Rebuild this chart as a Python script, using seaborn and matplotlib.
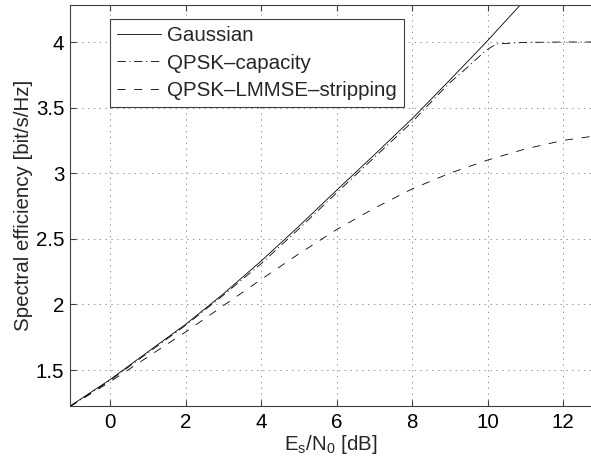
import matplotlib
matplotlib.use("Agg")
import matplotlib.pyplot as plt
import pandas as pd
import seaborn as sns

# Spectral efficiency versus Es/N0 for three schemes
gauss_snr = [-1.06, 0, 1, 2, 3, 4, 5, 6, 7, 8, 9, 10, 10.86]
gauss_se = [1.225, 1.427, 1.638, 1.848, 2.08, 2.33, 2.595, 2.87, 3.14, 3.415, 3.71, 4.01, 4.28]

qpsk_snr = [-1.06, 0, 1, 2, 3, 4, 5, 6, 7, 8, 8.56, 9, 9.36, 9.96, 10.23, 11, 12, 12.74]
qpsk_se = [1.222, 1.42, 1.63, 1.84, 2.07, 2.31, 2.575, 2.85, 3.12, 3.39, 3.56, 3.69, 3.78,
           3.936, 3.985, 3.997, 4.0, 4.0]

lmmse_snr = [-1.06, 0, 1, 2, 3, 4, 5, 6, 7, 8, 9, 10, 11, 12, 12.74]
lmmse_se = [1.222, 1.41, 1.60, 1.79, 1.99, 2.19, 2.385, 2.57, 2.733, 2.88, 3.0, 3.10, 3.185,
            3.25, 3.28]

series_names = ["Gaussian", "QPSK\u2013capacity", "QPSK\u2013LMMSE\u2013stripping"]

x_ticks = [0, 2, 4, 6, 8, 10, 12]
y_ticks = [1.5, 2, 2.5, 3, 3.5, 4]

FS = 14.8

sns.set_style("ticks")
plt.rcParams["font.family"] = ["Liberation Sans", "DejaVu Sans"]
plt.rcParams["mathtext.fontset"] = "custom"
plt.rcParams["mathtext.rm"] = "Liberation Sans"
plt.rcParams["mathtext.it"] = "Liberation Sans:italic"
plt.rcParams["lines.scale_dashes"] = False

df = pd.concat([
    pd.DataFrame({"snr": gauss_snr, "se": gauss_se, "series": series_names[0]}),
    pd.DataFrame({"snr": qpsk_snr, "se": qpsk_se, "series": series_names[1]}),
    pd.DataFrame({"snr": lmmse_snr, "se": lmmse_se, "series": series_names[2]}),
], ignore_index=True)

fig = plt.figure(figsize=(5.91, 4.66), dpi=100)
ax = fig.add_axes([70 / 591, 1 - 406 / 466, 521 / 591, 401 / 466])

sns.lineplot(
    data=df, x="snr", y="se", hue="series", style="series",
    hue_order=series_names, style_order=series_names,
    palette={n: "black" for n in series_names},
    dashes={series_names[0]: "",
            series_names[1]: (6.0, 2.6, 0.8, 2.6),
            series_names[2]: (5.8, 6.2)},
    linewidth=0.6, sort=False, estimator=None, ax=ax,
)

ax.set_xlim(-1.06, 12.74)
ax.set_ylim(1.226, 4.282)
ax.set_xticks(x_ticks)
ax.set_yticks(y_ticks)
ax.set_xticklabels([f"{t:g}" for t in x_ticks])
ax.set_yticklabels([f"{t:g}" for t in y_ticks])

ax.grid(True, linestyle=(0, (1, 3.2)), color="#808080", linewidth=0.6)
ax.tick_params(direction="in", length=4, width=0.8, color="#404040",
               labelsize=FS, labelcolor="black", top=True, right=False)
ax.tick_params(axis="x", pad=5)
ax.tick_params(axis="y", pad=4)
for side in ("left", "bottom", "top"):
    ax.spines[side].set_color("#404040")
    ax.spines[side].set_linewidth(0.8)
ax.spines["right"].set_visible(False)

ax.set_xlabel(r"E$_{\mathrm{s}}$/N$_{\mathrm{0}}$ [dB]", fontsize=FS, labelpad=1)
ax.set_ylabel("Spectral efficiency [bit/s/Hz]", fontsize=FS, labelpad=2)

handles, labels = ax.get_legend_handles_labels()
leg = ax.legend(handles, labels, loc="upper left", bbox_to_anchor=(0.0768, 0.965),
                borderaxespad=0, fontsize=FS, frameon=True, fancybox=False,
                framealpha=1, edgecolor="#404040", handlelength=2.15,
                handletextpad=0.3, labelspacing=0.42, borderpad=0.34)
leg.get_frame().set_linewidth(0.8)

fig.savefig("out.png", dpi=100)
